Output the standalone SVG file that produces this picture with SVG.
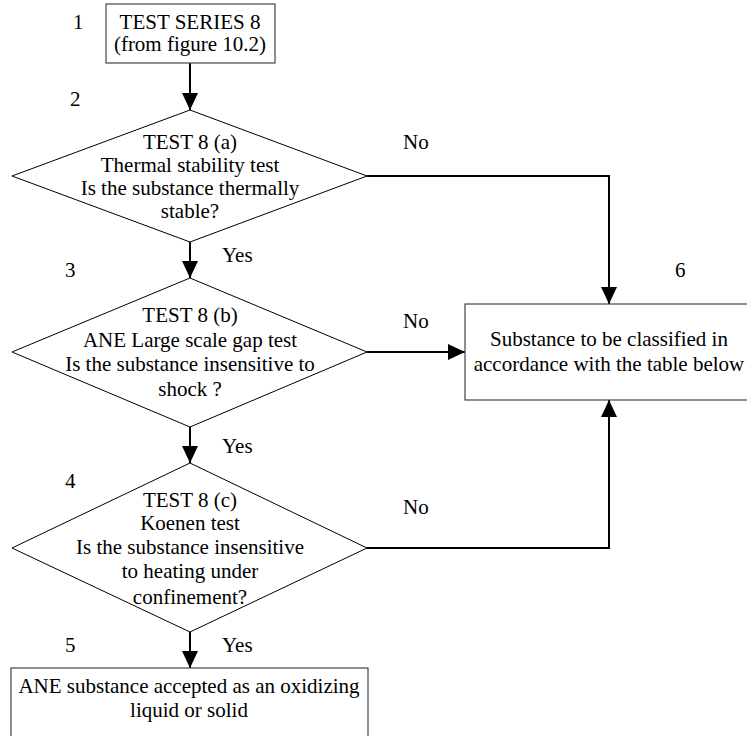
<svg xmlns="http://www.w3.org/2000/svg" width="747" height="736" viewBox="0 0 747 736">
<style>
text{font-family:"Liberation Serif","DejaVu Serif",serif;font-size:21px;fill:#000}
.c{text-anchor:middle}
.box{fill:#fff;stroke:#444;stroke-width:1.2}
.dia{fill:#fff;stroke:#000;stroke-width:1}
.con{fill:none;stroke:#000;stroke-width:2}
</style>
<defs>
<marker id="ah" markerUnits="userSpaceOnUse" markerWidth="17" markerHeight="16" refX="17" refY="8" orient="auto">
<path d="M0,0 L17,8 L0,16 z" fill="#000"/>
</marker>
</defs>
<rect width="747" height="736" fill="#fff"/>
<g id="connectors">
<line class="con" x1="190" y1="63" x2="190" y2="110" marker-end="url(#ah)"/>
<line class="con" x1="190" y1="242" x2="190" y2="278" marker-end="url(#ah)"/>
<line class="con" x1="190" y1="427" x2="190" y2="463" marker-end="url(#ah)"/>
<line class="con" x1="190" y1="632" x2="190" y2="668" marker-end="url(#ah)"/>
<polyline class="con" points="367,176 609,176 609,304" marker-end="url(#ah)"/>
<line class="con" x1="367" y1="352" x2="465" y2="352" marker-end="url(#ah)"/>
<polyline class="con" points="367,548 609,548 609,400" marker-end="url(#ah)"/>
<text x="222" y="262">Yes</text>
<text x="222" y="453">Yes</text>
<text x="222" y="652">Yes</text>
<text x="403" y="149">No</text>
<text x="403" y="328">No</text>
<text x="403" y="514">No</text>
</g>
<g id="n1">
<rect class="box" x="106" y="4" width="169" height="59"/>
<text class="c" x="190" y="29">TEST SERIES 8</text>
<text class="c" x="190" y="51">(from figure 10.2)</text>
<text x="73" y="29">1</text>
</g>
<g id="n2">
<polygon class="dia" points="190,110 367,176 190,242 12,176"/>
<text class="c" x="190" y="149">TEST 8 (a)</text>
<text class="c" x="190" y="172">Thermal stability test</text>
<text class="c" x="190" y="195">Is the substance thermally</text>
<text class="c" x="190" y="218">stable?</text>
<text x="70" y="106">2</text>
</g>
<g id="n3">
<polygon class="dia" points="190,278 367,352 190,427 12,352"/>
<text class="c" x="190" y="322">TEST 8 (b)</text>
<text class="c" x="190" y="347">ANE Large scale gap test</text>
<text class="c" x="190" y="371">Is the substance insensitive to</text>
<text class="c" x="190" y="396">shock ?</text>
<text x="65" y="277">3</text>
</g>
<g id="n4">
<polygon class="dia" points="190,463 367,548 190,632 12,548"/>
<text class="c" x="190" y="507">TEST 8 (c)</text>
<text class="c" x="190" y="530">Koenen test</text>
<text class="c" x="190" y="554">Is the substance insensitive</text>
<text class="c" x="190" y="578">to heating under</text>
<text class="c" x="190" y="604">confinement?</text>
<text x="65" y="488">4</text>
</g>
<g id="n5">
<rect class="box" x="11" y="668" width="357" height="80"/>
<text class="c" x="189" y="693">ANE substance accepted as an oxidizing</text>
<text class="c" x="189" y="717">liquid or solid</text>
<text x="65" y="652">5</text>
</g>
<g id="n6">
<rect class="box" x="465" y="304" width="300" height="96"/>
<text class="c" x="609" y="346">Substance to be classified in</text>
<text class="c" x="609" y="371">accordance with the table below</text>
<text x="675" y="277">6</text>
</g>
</svg>
